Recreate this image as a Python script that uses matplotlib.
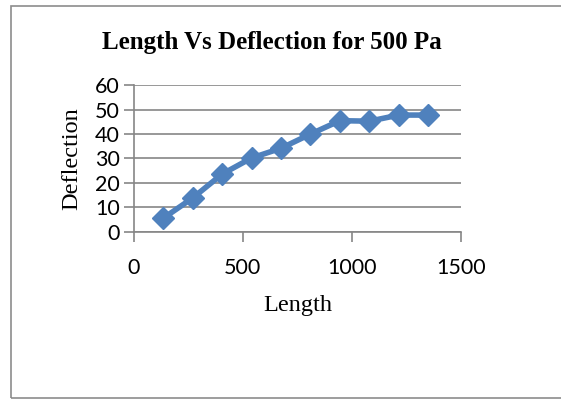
import matplotlib
matplotlib.use("Agg")
import matplotlib.pyplot as plt
from matplotlib.patches import Rectangle

length = [135, 270, 405, 540, 675, 810, 945, 1080, 1215, 1350]
deflection = [5.5, 13.8, 23.6, 30.2, 34.2, 40.0, 45.5, 45.3, 47.8, 47.8]
xticks = [0, 500, 1000, 1500]
yticks = [0, 10, 20, 30, 40, 50, 60]

W, H = 561, 400
fig = plt.figure(figsize=(W / 100, H / 100), dpi=100)

# outer chart frame
fig.patches.append(Rectangle((11 / W, 1 - 398 / H), 560 / W, 392 / H,
                             transform=fig.transFigure, fill=False,
                             edgecolor="#8c8c8c", linewidth=1.2))

ax = fig.add_axes([133.7 / W, 1 - 231.7 / H, (461 - 133.7) / W, (231.7 - 85.3) / H])
ax.plot(length, deflection, color="#4F81BD", linewidth=4,
        marker="D", markersize=11, markerfacecolor="#4F81BD",
        markeredgecolor="#4F81BD", zorder=3, clip_on=False)

ax.set_xlim(0, 1500)
ax.set_ylim(0, 60)
ax.set_xticks(xticks)
ax.set_yticks(yticks)
ax.grid(axis="y", color="#868686", linewidth=1.2)
ax.set_axisbelow(True)
for s in ["top", "right"]:
    ax.spines[s].set_visible(False)
for s in ["left", "bottom"]:
    ax.spines[s].set_color("#868686")
    ax.spines[s].set_linewidth(1.2)
ax.tick_params(axis="both", color="#868686", width=1.2, length=7,
               labelsize=15.5)
ax.tick_params(axis="x", pad=12)
ax.tick_params(axis="y", pad=3)
for lab in ax.get_xticklabels() + ax.get_yticklabels():
    lab.set_fontfamily("Lato")

ax.set_xlabel("Length", fontfamily="Liberation Serif", fontsize=17.5, labelpad=12)
ax.set_ylabel("Deflection", fontfamily="Liberation Serif", fontsize=17.5, labelpad=9)
fig.text(272 / W, 1 - 43 / H, "Length Vs Deflection for 500 Pa",
         ha="center", va="center", fontfamily="Liberation Serif",
         fontweight="bold", fontsize=18)

fig.savefig("out.png", dpi=100)
